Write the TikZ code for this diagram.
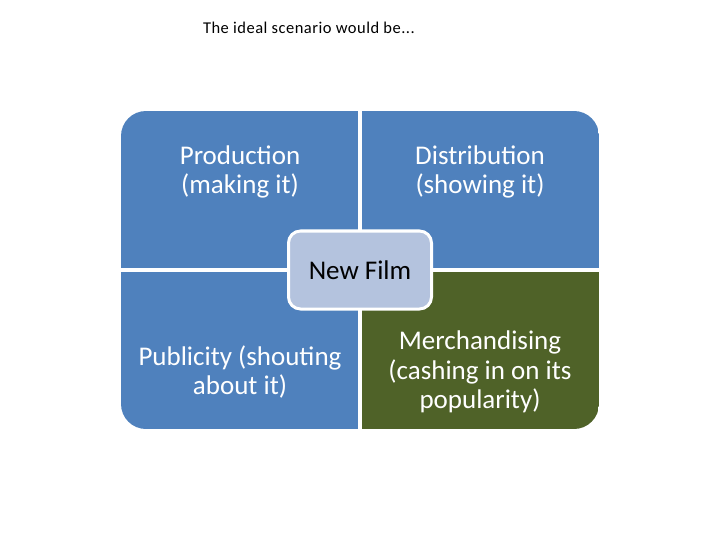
\documentclass[tikz,border=0pt]{standalone}
\usepackage{fontspec}
\setmainfont{Carlito}
\newfontfamily\titlefont[LetterSpace=3]{Carlito}
\usetikzlibrary{positioning}
\definecolor{quadblue}{HTML}{4F81BD}
\definecolor{quadgreen}{HTML}{4F6228}
\definecolor{hubblue}{HTML}{B4C3DE}

\begin{document}
\begin{tikzpicture}[x=1pt,y=-1pt,every node/.style={inner sep=0pt,outer sep=0pt},
  quad/.style={fill=#1,minimum width=239pt,minimum height=159pt},
  quadtext/.style={text=white,align=center,font=\fontsize{27}{29.5}\selectfont},
  gap/.style={draw=white,line width=4pt},
  hub/.style={fill=hubblue,draw=white,line width=3pt,rounded corners=12pt,
    minimum width=143pt,minimum height=78pt,font=\fontsize{27}{29.5}\selectfont}]
  \useasboundingbox (0,0) rectangle (720,540);
  \node[anchor=base west,font=\titlefont\fontsize{16.5}{19}\selectfont] (title) at (203,34) {The ideal scenario would be...};
  \begin{scope}
    \clip[rounded corners=25pt] (121,111) rectangle (599,429);
    \node[quad=quadblue,anchor=north west] (prod) at (121,111) {};
    \node[quad=quadblue,right=0pt of prod] (dist) {};
    \node[quad=quadblue,below=0pt of prod] (pub) {};
    \node[quad=quadgreen,below=0pt of dist] (merch) {};
  \end{scope}
  \draw[gap] (prod.north east) -- (pub.south east);
  \draw[gap] (prod.south west) -- (dist.south east);
  \node[quadtext] (prodtext) at (240,172) {Production\\(making it)};
  \node[quadtext] (disttext) at (480,172) {Distribution\\(showing it)};
  \node[quadtext] (pubtext) at (240,372) {Publicity (shouting\\about it)};
  \node[quadtext] (merchtext) at (480,372) {Merchandising\\(cashing in on its\\popularity)};
  \node[hub] (film) at (prod.south east) {New Film};
\end{tikzpicture}
\end{document}
